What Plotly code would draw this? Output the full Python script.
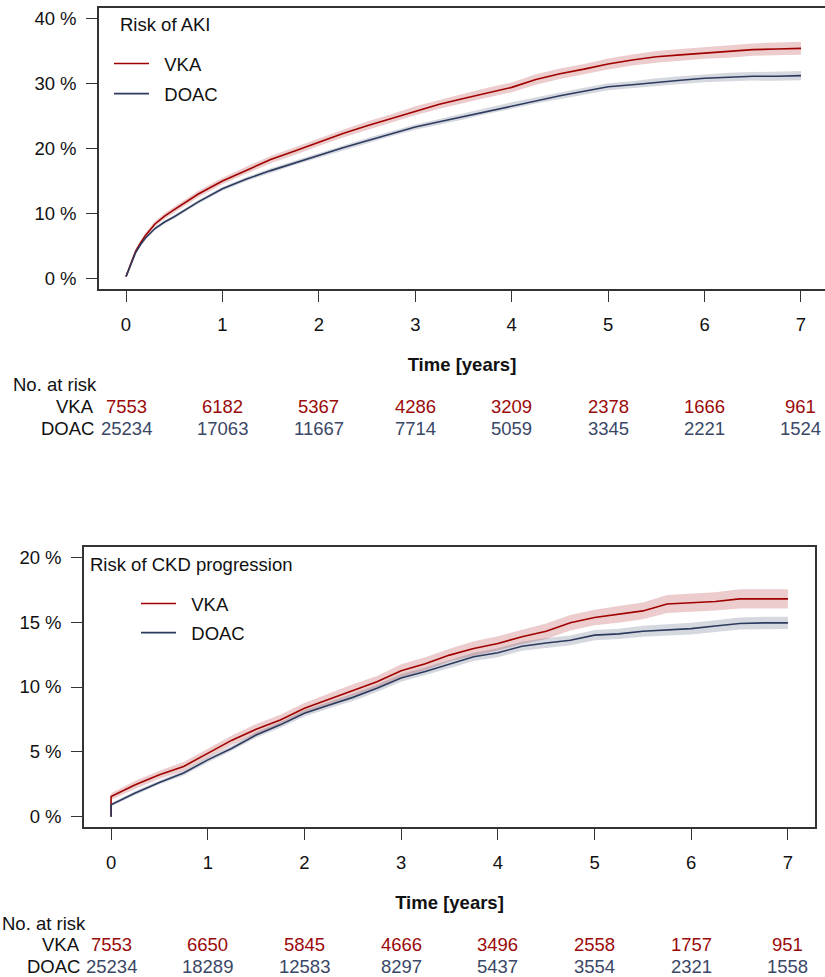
import plotly.graph_objects as go

# ---------------- data: Risk of AKI ----------------
aki_time = [0, 0.05, 0.1, 0.15, 0.2, 0.3, 0.4, 0.5, 0.75, 1, 1.25, 1.5, 1.75, 2, 2.25, 2.5, 2.75,
            3, 3.25, 3.5, 3.75, 4, 4.25, 4.5, 4.75, 5, 5.25, 5.5, 5.75, 6, 6.25, 6.5, 6.75, 7]
aki_vka = [0.3, 2.4, 4.2, 5.5, 6.6, 8.4, 9.6, 10.6, 13.0, 15.0, 16.7, 18.3, 19.6, 21.0, 22.3, 23.5, 24.6,
           25.8, 26.8, 27.7, 28.6, 29.4, 30.6, 31.5, 32.2, 33.0, 33.6, 34.1, 34.4, 34.7, 34.9, 35.2, 35.3, 35.4]
aki_doac = [0.3, 2.3, 4.0, 5.2, 6.2, 7.7, 8.7, 9.5, 11.8, 13.8, 15.3, 16.6, 17.8, 19.0, 20.1, 21.2, 22.3,
            23.3, 24.1, 24.9, 25.8, 26.6, 27.4, 28.1, 28.8, 29.5, 29.8, 30.2, 30.5, 30.8, 31.0, 31.1, 31.1, 31.2]
aki_vka_ci = [0.1, 0.3, 0.4, 0.4, 0.4, 0.4, 0.45, 0.45, 0.5, 0.5, 0.55, 0.55, 0.6, 0.6, 0.6, 0.65, 0.65,
              0.7, 0.7, 0.7, 0.75, 0.75, 0.8, 0.8, 0.8, 0.85, 0.85, 0.9, 0.9, 0.9, 0.95, 0.95, 1.0, 1.0]
aki_doac_ci = [0.05, 0.15, 0.2, 0.2, 0.2, 0.25, 0.25, 0.25, 0.3, 0.3, 0.3, 0.35, 0.35, 0.35, 0.35, 0.4, 0.4,
               0.4, 0.45, 0.45, 0.45, 0.5, 0.5, 0.5, 0.55, 0.55, 0.55, 0.6, 0.6, 0.6, 0.65, 0.65, 0.7, 0.7]

# ---------------- data: Risk of CKD progression ----------------
ckd_time = [0, 0, 0.25, 0.5, 0.75, 1, 1.25, 1.5, 1.75, 2, 2.25, 2.5, 2.75, 3, 3.25, 3.5, 3.75,
            4, 4.25, 4.5, 4.75, 5, 5.25, 5.5, 5.75, 6, 6.25, 6.5, 6.75, 7]
ckd_vka = [0, 1.56, 2.46, 3.23, 3.87, 4.9, 5.9, 6.74, 7.46, 8.36, 9.05, 9.77, 10.4, 11.25, 11.8, 12.46, 12.97,
           13.36, 13.87, 14.3, 14.95, 15.36, 15.6, 15.87, 16.4, 16.5, 16.6, 16.8, 16.8, 16.8]
ckd_doac = [0, 0.92, 1.82, 2.64, 3.36, 4.38, 5.28, 6.3, 7.08, 7.97, 8.6, 9.2, 9.9, 10.7, 11.2, 11.77, 12.33,
            12.64, 13.15, 13.4, 13.6, 14.0, 14.1, 14.3, 14.4, 14.5, 14.7, 14.9, 14.95, 14.95]
ckd_vka_ci = [0, 0.25, 0.3, 0.3, 0.35, 0.35, 0.35, 0.4, 0.4, 0.4, 0.45, 0.45, 0.45, 0.5, 0.5, 0.5, 0.55,
              0.55, 0.55, 0.6, 0.6, 0.6, 0.65, 0.65, 0.7, 0.7, 0.7, 0.75, 0.75, 0.75]
ckd_doac_ci = [0, 0.12, 0.15, 0.15, 0.18, 0.2, 0.2, 0.22, 0.22, 0.25, 0.25, 0.28, 0.28, 0.3, 0.3, 0.32, 0.32,
               0.35, 0.35, 0.38, 0.38, 0.4, 0.4, 0.42, 0.42, 0.45, 0.45, 0.47, 0.47, 0.47]

# ---------------- data: numbers at risk ----------------
risk_times = [0, 1, 2, 3, 4, 5, 6, 7]
aki_risk_vka = [7553, 6182, 5367, 4286, 3209, 2378, 1666, 961]
aki_risk_doac = [25234, 17063, 11667, 7714, 5059, 3345, 2221, 1524]
ckd_risk_vka = [7553, 6650, 5845, 4666, 3496, 2558, 1757, 951]
ckd_risk_doac = [25234, 18289, 12583, 8297, 5437, 3554, 2321, 1558]

aki_yticks = [0, 10, 20, 30, 40]
ckd_yticks = [0, 5, 10, 15, 20]
groups = ["VKA", "DOAC"]

# ---------------- style ----------------
W, H = 825, 977
VKA_COL = "#A00000"
DOAC_COL = "#2C3A5E"
VKA_FILL = "rgba(160,0,0,0.20)"
DOAC_FILL = "rgba(44,58,94,0.20)"
VKA_TXT = "#9B0A0A"
DOAC_TXT = "#3A4766"
FONT = "Liberation Sans, Arial, Helvetica, sans-serif"
FS = 18.5
AX_COL = "#333333"
PAD = "\u00a0\u00a0"


def px_x(p):
    return p / W


def px_y(p):
    return 1 - p / H


fig = go.Figure()


def add_panel(t, vka, doac, vka_ci, doac_ci, xa, ya, legend):
    for vals, ci, fill in [(vka, vka_ci, VKA_FILL), (doac, doac_ci, DOAC_FILL)]:
        upper = [v + c for v, c in zip(vals, ci)]
        lower = [v - c for v, c in zip(vals, ci)]
        fig.add_trace(go.Scatter(x=t + t[::-1], y=upper + lower[::-1], fill="toself",
                                 fillcolor=fill, line=dict(width=0), mode="lines",
                                 hoverinfo="skip", showlegend=False, xaxis=xa, yaxis=ya))
    for vals, col, name in [(vka, VKA_COL, groups[0]), (doac, DOAC_COL, groups[1])]:
        fig.add_trace(go.Scatter(x=t, y=vals, mode="lines", name=PAD + name,
                                 legendgroup=legend + name,
                                 line=dict(color=col, width=1.6),
                                 legend=legend, xaxis=xa, yaxis=ya))


add_panel(aki_time, aki_vka, aki_doac, aki_vka_ci, aki_doac_ci, "x", "y", "legend")
add_panel(ckd_time, ckd_vka, ckd_doac, ckd_vka_ci, ckd_doac_ci, "x2", "y2", "legend2")

common_x = dict(tickmode="array", tickvals=risk_times, ticks="outside", ticklen=11,
                tickwidth=1.2, tickcolor=AX_COL, showline=True, linecolor=AX_COL, linewidth=1.5,
                showgrid=False, zeroline=False, tickfont=dict(size=FS, color="#111111", family=FONT),
                ticklabelstandoff=7,
                title=dict(text="<b>Time [years]</b>", font=dict(size=FS, color="#111111", family=FONT),
                           standoff=24))
common_y = dict(tickmode="array", ticks="outside", ticklen=11, tickwidth=1.2, tickcolor=AX_COL,
                showline=True, linecolor=AX_COL, linewidth=1.5, showgrid=False, zeroline=False,
                tickfont=dict(size=FS, color="#111111", family=FONT), ticklabelstandoff=6)

fig.update_layout(
    width=W, height=H, margin=dict(l=0, r=0, t=0, b=0),
    plot_bgcolor="white", paper_bgcolor="white",
    font=dict(family=FONT, size=FS, color="#111111"),
    xaxis=dict(common_x, domain=[px_x(99), 1], range=[-0.28, 7.249], mirror=True, anchor="y"),
    yaxis=dict(common_y, domain=[px_y(289), px_y(8)], range=[-1.6, 41.6], mirror=False,
               tickvals=aki_yticks, ticktext=[f"{v} %" for v in aki_yticks], anchor="x"),
    xaxis2=dict(common_x, domain=[px_x(84), px_x(815)], range=[-0.28, 7.28], mirror=True, anchor="y2"),
    yaxis2=dict(common_y, domain=[px_y(827), px_y(547)], range=[-0.8, 20.8], mirror=True,
                tickvals=ckd_yticks, ticktext=[f"{v} %" for v in ckd_yticks], anchor="x2"),
    legend=dict(x=px_x(109), y=px_y(45), xanchor="left", yanchor="top", bgcolor="rgba(0,0,0,0)",
                font=dict(size=FS, family=FONT), tracegroupgap=3, itemwidth=35),
    legend2=dict(x=px_x(136), y=px_y(585), xanchor="left", yanchor="top", bgcolor="rgba(0,0,0,0)",
                 font=dict(size=FS, family=FONT), tracegroupgap=2, itemwidth=35),
    showlegend=True,
)

ann = []
# panel titles
ann.append(dict(text="Risk of AKI", xref="paper", yref="paper", x=px_x(118), y=px_y(25),
                xanchor="left", yanchor="middle", showarrow=False, font=dict(size=FS)))
ann.append(dict(text="Risk of CKD progression", xref="paper", yref="paper", x=px_x(88), y=px_y(564),
                xanchor="left", yanchor="middle", showarrow=False, font=dict(size=FS)))


def risk_table(xref, y_head, y_vka, y_doac, x_head, x_lab, vka_n, doac_n):
    ann.append(dict(text="No. at risk", xref="paper", yref="paper", x=px_x(x_head), y=px_y(y_head),
                    xanchor="left", yanchor="middle", showarrow=False, font=dict(size=FS)))
    for yy, lab in [(y_vka, groups[0]), (y_doac, groups[1])]:
        ann.append(dict(text=lab, xref="paper", yref="paper", x=px_x(x_lab), y=px_y(yy),
                        xanchor="right", yanchor="middle", showarrow=False, font=dict(size=FS)))
    for t, a, b in zip(risk_times, vka_n, doac_n):
        ann.append(dict(text=str(a), xref=xref, yref="paper", x=t, y=px_y(y_vka),
                        xanchor="center", yanchor="middle", showarrow=False,
                        font=dict(size=FS, color=VKA_TXT)))
        ann.append(dict(text=str(b), xref=xref, yref="paper", x=t, y=px_y(y_doac),
                        xanchor="center", yanchor="middle", showarrow=False,
                        font=dict(size=FS, color=DOAC_TXT)))


risk_table("x", 384, 406, 428, 11, 96, aki_risk_vka, aki_risk_doac)
risk_table("x2", 923, 944, 966, 0, 82, ckd_risk_vka, ckd_risk_doac)

fig.update_layout(annotations=ann)
fig.write_html("out.html", config={"displayModeBar": False},
               post_script="document.body.style.margin='0';document.body.style.overflow='hidden';")
